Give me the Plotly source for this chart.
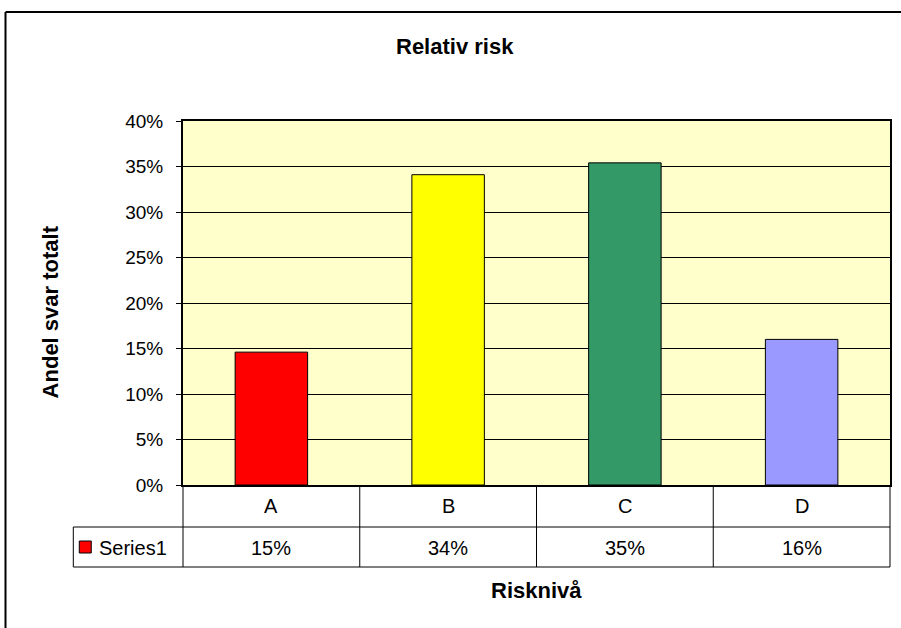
import plotly.graph_objects as go

categories = ["A", "B", "C", "D"]
values = [0.146, 0.341, 0.354, 0.160]
bar_colors = ["#FF0000", "#FFFF00", "#339966", "#9999FF"]
series_name = "Series1"
title_text = "Relativ risk"
x_title = "Risknivå"
y_title = "Andel svar totalt"
y_ticks = [0, 0.05, 0.10, 0.15, 0.20, 0.25, 0.30, 0.35, 0.40]

W, H = 901, 628
ML, MR, MT, MB = 183, 9, 121, 143
PW, PH = W - ML - MR, H - MT - MB
FONT = "Liberation Sans, Arial, sans-serif"
TABLE_FS = 20
TICK_FS = 19
TITLE_FS = 22


def px_x(px):
    return (px - ML) / PW


def px_y(py):
    return (H - MB - py) / PH


fig = go.Figure()
fig.add_trace(go.Bar(
    x=categories, y=values, width=0.41,
    marker=dict(color=bar_colors, line=dict(color="#000000", width=1)),
    name=series_name, showlegend=False,
))

shapes = []
annotations = []
line_col = "#000000"

# outer chart border (left and top visible)
shapes.append(dict(type="line", xref="paper", yref="paper",
                   x0=px_x(5), x1=px_x(5), y0=px_y(12), y1=px_y(H + 5),
                   line=dict(color="#000000", width=2)))
shapes.append(dict(type="line", xref="paper", yref="paper",
                   x0=px_x(5), x1=px_x(W + 5), y0=px_y(12), y1=px_y(12),
                   line=dict(color="#000000", width=2)))

# data table
n = len(categories)
row1_bot = px_y(527)
row2_bot = px_y(567)
left_cell = px_x(73)
for i in range(n + 1):
    xb = i / n
    shapes.append(dict(type="line", xref="paper", yref="paper",
                       x0=xb, x1=xb, y0=0, y1=row2_bot,
                       line=dict(color=line_col, width=1)))
for yb in (row1_bot, row2_bot):
    shapes.append(dict(type="line", xref="paper", yref="paper",
                       x0=left_cell, x1=1, y0=yb, y1=yb,
                       line=dict(color=line_col, width=1)))
shapes.append(dict(type="line", xref="paper", yref="paper",
                   x0=left_cell, x1=left_cell, y0=row1_bot, y1=row2_bot,
                   line=dict(color=line_col, width=1)))

# legend key
shapes.append(dict(type="rect", xref="paper", yref="paper",
                   x0=px_x(79), x1=px_x(91), y0=px_y(553), y1=px_y(541),
                   fillcolor=bar_colors[0], line=dict(color="#000000", width=1)))
annotations.append(dict(text=series_name, xref="paper", yref="paper",
                        x=px_x(97), y=px_y(548), xanchor="left", yanchor="middle",
                        showarrow=False, font=dict(family=FONT, size=TABLE_FS, color="#000")))

for c, v in zip(categories, values):
    annotations.append(dict(text=c, xref="x", yref="paper",
                            x=c, y=px_y(506), xanchor="center", yanchor="middle",
                            showarrow=False, font=dict(family=FONT, size=TABLE_FS, color="#000")))
    annotations.append(dict(text=f"{round(v * 100):d}%", xref="x", yref="paper",
                            x=c, y=px_y(548), xanchor="center", yanchor="middle",
                            showarrow=False, font=dict(family=FONT, size=TABLE_FS, color="#000")))

# titles
annotations.append(dict(text=f"<b>{title_text}</b>", xref="paper", yref="paper",
                        x=px_x(456), y=px_y(46), xanchor="center", yanchor="middle",
                        showarrow=False, font=dict(family=FONT, size=TITLE_FS, color="#000")))
annotations.append(dict(text=f"<b>{x_title}</b>", xref="paper", yref="paper",
                        x=px_x(537), y=px_y(590), xanchor="center", yanchor="middle",
                        showarrow=False, font=dict(family=FONT, size=TITLE_FS, color="#000")))
annotations.append(dict(text=f"<b>{y_title}</b>", xref="paper", yref="paper",
                        x=px_x(50), y=px_y(312), xanchor="center", yanchor="middle",
                        textangle=-90, showarrow=False,
                        font=dict(family=FONT, size=TITLE_FS, color="#000")))

fig.update_layout(
    width=W, height=H,
    margin=dict(l=ML, r=MR, t=MT, b=MB, pad=0),
    paper_bgcolor="#FFFFFF", plot_bgcolor="#FFFFCC",
    font=dict(family=FONT, size=TICK_FS, color="#000000"),
    shapes=shapes, annotations=annotations,
    bargap=0.59,
)
fig.update_xaxes(type="category", range=[-0.5, n - 0.5], showticklabels=False,
                 ticks="", showgrid=False, showline=True, linecolor="#000000",
                 linewidth=1.5, mirror=True, zeroline=False, fixedrange=True)
fig.update_yaxes(range=[0, 0.40], tickvals=y_ticks, tickformat=".0%",
                 ticks="outside", ticklen=5, tickcolor="#000000", tickwidth=1,
                 ticklabelstandoff=9,
                 showgrid=True, gridcolor="#000000", gridwidth=1,
                 showline=True, linecolor="#000000", linewidth=2, mirror=True,
                 zeroline=False, tickfont=dict(family=FONT, size=TICK_FS, color="#000"),
                 fixedrange=True)

fig.write_html("out.html")
